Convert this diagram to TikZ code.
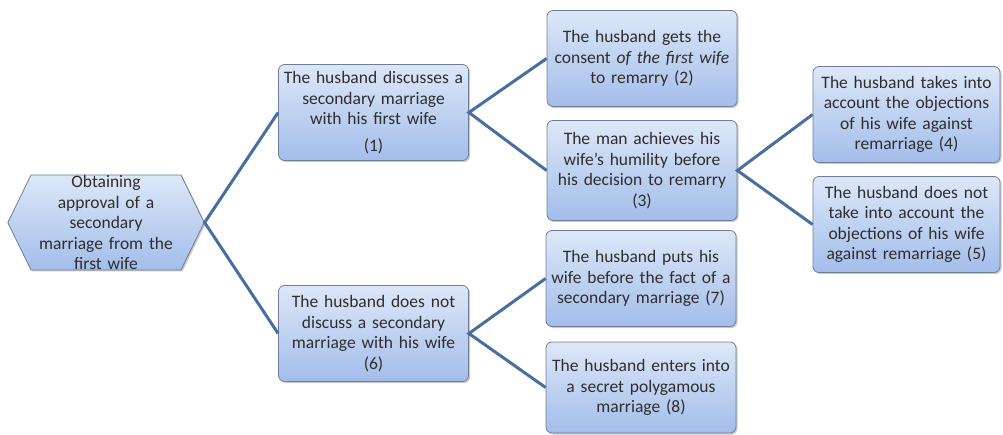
\documentclass[tikz,border=0pt]{standalone}
\usepackage{fontspec}
\setmainfont{Carlito}
\usetikzlibrary{shapes.symbols,shadows}
\definecolor{boxtop}{HTML}{DDE7F8}
\definecolor{boxbot}{HTML}{A3BDEA}
\definecolor{boxline}{HTML}{6F7E98}
\definecolor{linkblue}{HTML}{4A6E9F}
\definecolor{boxtext}{HTML}{2E2E2E}
\tikzset{
	item/.style={draw=boxline, line width=0.8pt, rounded corners=6pt, top color=boxtop, bottom color=boxbot,
		drop shadow={shadow xshift=1.5pt, shadow yshift=-1.5pt, opacity=0.35, fill=black!60},
		text width=186pt, inner xsep=2pt, minimum height=96pt, align=center, text=boxtext,
		font=\fontsize{17.5}{20.5}\selectfont},
	root/.style={item, rounded corners=0pt, shape=signal, signal to=west and east, signal pointer angle=128,
		text width=150pt, minimum width=192pt, minimum height=95pt, inner xsep=0pt, inner ysep=0pt},
	link/.style={draw=linkblue, line width=3pt}
}
\begin{document}
\begin{tikzpicture}[x=1pt, y=-1pt]
	\useasboundingbox (0,0) rectangle (1003,435);
	\node[root] (goal) at (106,222.5) {Obtaining\\approval of a\\secondary\\marriage from the\\first wife};
	\node[item] (talk) at (373.5,112.5) {The husband discusses a\\secondary marriage\\with his first wife\\[6pt](1)};
	\node[item] (silent) at (373.5,333.5) {The husband does not\\discuss a secondary\\marriage with his wife\\(6)};
	\node[item] (consent) at (642,58.5) {The husband gets the\\consent \textit{of the first wife}\\to remarry (2)};
	\node[item, minimum height=100pt] (humble) at (642,170.5) {The man achieves his\\wife's humility before\\his decision to remarry\\(3)};
	\node[item] (fact) at (641,278.5) {The husband puts his\\wife before the fact of a\\secondary marriage (7)};
	\node[item, minimum height=91pt] (secret) at (641,387.5) {The husband enters into\\a secret polygamous\\marriage (8)};
	\node[item, text width=183pt] (heed) at (906.5,114.5) {The husband takes into\\account the objections\\of his wife against\\remarriage (4)};
	\node[item, text width=183pt] (ignore) at (906.5,224.5) {The husband does not\\take into account the\\objections of his wife\\against remarriage (5)};
	\draw[link] (talk.west) -- (goal.east) -- (silent.west);
	\draw[link] (consent.west) -- (talk.east) -- (humble.west);
	\draw[link] (heed.west) -- (humble.east) -- (ignore.west);
	\draw[link] (fact.west) -- (silent.east) -- (secret.west);
\end{tikzpicture}
\end{document}
